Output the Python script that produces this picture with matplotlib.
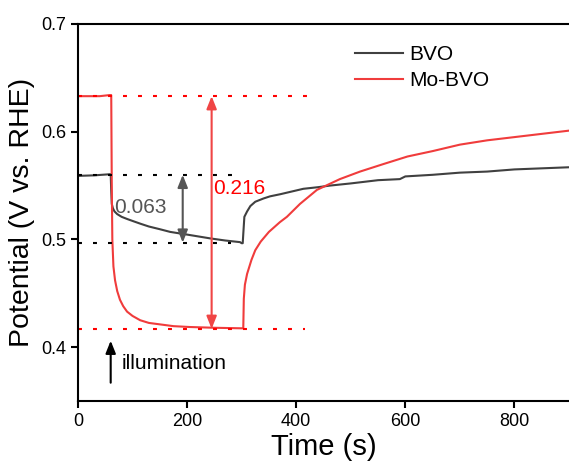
import matplotlib
matplotlib.use("Agg")
import matplotlib.pyplot as plt

plt.rcParams["font.family"] = ["Liberation Sans", "DejaVu Sans"]

# BVO transient
bvo_t = [0, 30, 58, 60, 61, 62, 64, 67, 72, 80, 90, 101, 115, 130, 150,
         169, 200, 242, 270, 297, 300, 302, 303, 305, 310, 316, 325, 340,
         352, 371, 413, 440, 462, 500, 550, 590, 600, 650, 700, 750, 800,
         850, 900]
bvo_v = [0.559, 0.5595, 0.5605, 0.5605, 0.545, 0.533, 0.529, 0.526, 0.5235,
         0.521, 0.519, 0.517, 0.5145, 0.512, 0.5095, 0.507, 0.5045, 0.501,
         0.499, 0.4975, 0.4965, 0.4965, 0.505, 0.521, 0.526, 0.531, 0.535,
         0.538, 0.540, 0.542, 0.547, 0.5485, 0.550, 0.552, 0.555, 0.556,
         0.5585, 0.560, 0.562, 0.563, 0.565, 0.566, 0.567]

# Mo-BVO transient
mo_t = [0, 40, 58, 61, 62, 63, 65, 68, 72, 77, 83, 90, 100, 114, 130, 145,
        175, 205, 250, 300, 303, 304, 306, 310, 318, 325, 335, 350, 370, 383,
        407, 438, 480, 517, 560, 604, 650, 700, 750, 800, 850, 900]
mo_v = [0.633, 0.633, 0.634, 0.634, 0.55, 0.50, 0.475, 0.462, 0.452, 0.444,
        0.438, 0.433, 0.429, 0.425, 0.4225, 0.4215, 0.4195, 0.4187, 0.418,
        0.4175, 0.4175, 0.445, 0.458, 0.468, 0.481, 0.490, 0.498, 0.507,
        0.516, 0.521, 0.533, 0.546, 0.556, 0.563, 0.570, 0.577, 0.582, 0.588,
        0.592, 0.595, 0.598, 0.601]

# guide levels (value, x end) and photovoltage arrows
bvo_levels = [0.560, 0.497]
bvo_level_end = [285, 280]
mo_levels = [0.633, 0.417]
mo_level_end = [431, 416]
bvo_arrow_t = 192
mo_arrow_t = 245
bvo_label = "0.063"
mo_label = "0.216"

gray = "#404040"
red = "#f03c3c"

fig = plt.figure(figsize=(5.69, 4.65), dpi=100)
ax = fig.add_axes([0.137, 0.1376, 0.863, 0.8108])

ax.plot(bvo_t, bvo_v, color=gray, lw=1.5, label="BVO")
ax.plot(mo_t, mo_v, color=red, lw=1.5, label="Mo-BVO")

for v, xe in zip(bvo_levels, bvo_level_end):
    ax.plot([0, xe], [v, v], color="black", lw=1.5, dashes=(1.9, 5.3))
for v, xe in zip(mo_levels, mo_level_end):
    ax.plot([0, xe], [v, v], color="#ff0000", lw=1.5, dashes=(1.9, 5.3))

ax.annotate("", xy=(bvo_arrow_t, bvo_levels[0]),
            xytext=(bvo_arrow_t, bvo_levels[1]),
            arrowprops=dict(arrowstyle="<|-|>,head_length=0.5,head_width=0.2",
                            mutation_scale=15, color="#555555", lw=1.5,
                            shrinkA=0, shrinkB=0))
ax.annotate("", xy=(mo_arrow_t, mo_levels[0]),
            xytext=(mo_arrow_t, mo_levels[1]),
            arrowprops=dict(arrowstyle="<|-|>,head_length=0.5,head_width=0.2",
                            mutation_scale=15, color="#f04545", lw=1.5,
                            shrinkA=0, shrinkB=0))
ax.text(67, 0.530, bvo_label, color="#555555", fontsize=15, va="center")
ax.text(248, 0.547, mo_label, color="#ff0000", fontsize=15, va="center")

ax.annotate("", xy=(60, 0.406), xytext=(60, 0.367),
            arrowprops=dict(arrowstyle="-|>,head_length=0.5,head_width=0.2",
                            mutation_scale=15, color="black", lw=1.5,
                            shrinkA=0, shrinkB=0))
ax.text(80, 0.385, "illumination", fontsize=15, va="center")

ax.set_xlim(0, 900)
ax.set_ylim(0.35, 0.7)
ax.set_xticks([0, 200, 400, 600, 800])
ax.set_yticks([0.4, 0.5, 0.6, 0.7])
ax.tick_params(direction="out", length=5, width=1.5, labelsize=13)
for s in ["left", "bottom", "top"]:
    ax.spines[s].set_linewidth(1.5)
ax.spines["right"].set_visible(False)
ax.set_xlabel("Time (s)", fontsize=21, labelpad=2)
ax.set_ylabel("Potential (V vs. RHE)", fontsize=20.5, labelpad=4)

ax.legend(loc="upper left", bbox_to_anchor=(0.564, 0.944), frameon=False,
          fontsize=15, handlelength=2.3, handletextpad=0.3,
          labelspacing=0.35, borderpad=0, borderaxespad=0)

fig.savefig("out.png", dpi=100)
